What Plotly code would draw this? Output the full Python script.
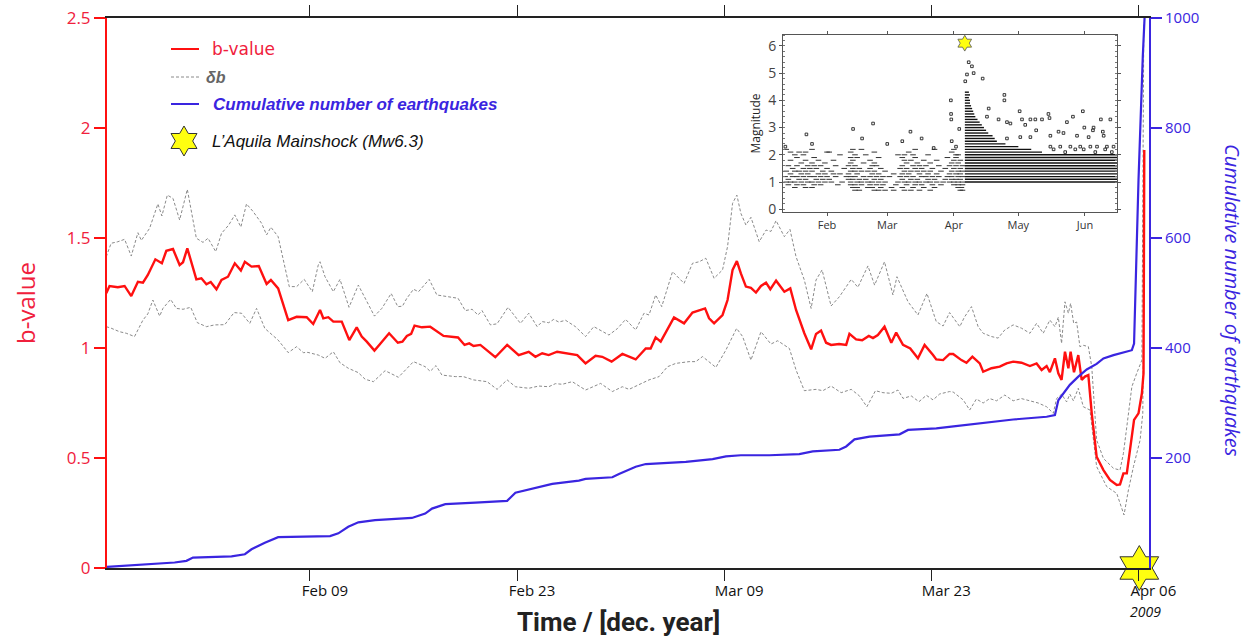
import math
import plotly.graph_objects as go
import pandas as pd

BASE = pd.Timestamp("2009-01-01")


def to_date(days):
    return [BASE + pd.Timedelta(days=float(d)) for d in days]


# ---------------- main chart data (day of year 2009, Jan 1 = 0) ----------------
b_day = [25.23, 25.45, 26.01, 26.47, 26.92, 27.37, 27.71, 28.04, 28.55, 28.99,
         29.29, 29.74, 30.19, 30.42, 30.71, 31.32, 31.66, 32.00, 32.29, 32.68,
         33.02, 33.46, 33.92, 34.33, 34.60, 35.05, 35.54, 36.07, 36.36, 36.85,
         37.53, 38.10, 38.78, 39.22, 39.68, 39.90, 40.24, 40.58, 41.15, 41.66,
         42.16, 42.50, 42.84, 43.36, 43.74, 44.35, 44.94, 45.25, 45.55, 45.84,
         46.07, 46.57, 47.13, 48.03, 49.01, 49.45, 49.77, 50.06, 50.52, 51.53,
         52.33, 53.11, 53.79, 54.24, 54.70, 55.14, 55.71, 56.28, 57.07, 57.63,
         58.31, 58.76, 59.39, 60.12, 61.02, 61.70, 62.03, 62.37, 62.71, 63.61,
         64.29, 64.86, 65.71, 65.98, 66.32, 66.89, 67.23, 67.57, 67.86, 68.13,
         68.47, 68.81, 69.15, 69.49, 69.83, 70.12, 70.51, 71.07, 71.47, 71.86,
         72.42, 72.88, 73.21, 73.55, 73.89, 74.23, 74.77, 75.25, 75.47, 75.92,
         76.33, 76.78, 77.06, 77.39, 77.84, 78.30, 78.63, 79.09, 79.58, 80.10,
         80.55, 81.12, 81.34, 81.80, 82.24, 82.48, 83.04, 83.38, 83.78, 84.28,
         84.51, 85.07, 85.63, 86.09, 86.54, 87.10, 87.67, 88.12, 88.46, 88.80,
         89.02, 89.36, 89.59, 89.81, 90.04, 90.27, 90.42, 90.65, 90.94, 91.17,
         91.39, 91.62, 91.85, 92.18, 92.64, 93.08, 93.54, 93.76, 93.99, 94.22,
         94.44, 94.71, 95.01, 95.24, 95.35, 95.40]
b_val = [1.249, 1.282, 1.276, 1.282, 1.236, 1.301, 1.297, 1.332, 1.403, 1.385,
         1.442, 1.45, 1.377, 1.39, 1.453, 1.312, 1.317, 1.29, 1.30, 1.267,
         1.309, 1.324, 1.385, 1.352, 1.392, 1.37, 1.373, 1.291, 1.309, 1.271,
         1.127, 1.142, 1.14, 1.109, 1.173, 1.135, 1.14, 1.12, 1.12, 1.036,
         1.094, 1.052, 1.029, 0.988, 1.018, 1.067, 1.024, 1.029, 1.055, 1.064,
         1.102, 1.094, 1.097, 1.055, 1.048, 1.014, 1.021, 1.009, 1.014, 0.958,
         1.014, 0.968, 0.983, 0.96, 0.976, 0.968, 0.983, 0.976, 0.968, 0.93,
         0.965, 0.96, 0.938, 0.973, 0.948, 0.998, 0.998, 1.048, 1.029, 1.139,
         1.112, 1.161, 1.18, 1.135, 1.112, 1.15, 1.218, 1.355, 1.395, 1.339,
         1.279, 1.273, 1.252, 1.282, 1.297, 1.267, 1.306, 1.256, 1.271, 1.173,
         1.067, 0.994, 1.064, 1.079, 1.024, 1.014, 1.018, 1.014, 1.064, 1.039,
         1.035, 1.055, 1.045, 1.059, 1.097, 1.024, 1.07, 1.014, 0.998, 0.953,
         1.014, 0.968, 0.948, 0.945, 0.973, 0.973, 0.945, 0.933, 0.961, 0.93,
         0.892, 0.908, 0.915, 0.93, 0.938, 0.933, 0.918, 0.93, 0.90, 0.918,
         0.89, 0.953, 0.885, 0.855, 0.983, 0.908, 0.983, 0.89, 0.968, 0.855,
         0.87, 0.877, 0.703, 0.506, 0.445, 0.40, 0.377, 0.38, 0.43, 0.43,
         0.536, 0.673, 0.703, 0.794, 0.885, 1.9]

up_day = [25.23, 25.56, 26.01, 26.47, 26.92, 27.37, 27.60, 28.16, 28.72, 28.99,
          29.36, 29.74, 30.19, 30.71, 31.32, 31.77, 32.11, 32.63, 33.02, 33.51,
          33.92, 34.33, 34.71, 35.16, 35.73, 36.07, 36.36, 36.85, 37.60, 38.10,
          38.61, 39.16, 39.56, 39.68, 40.02, 40.58, 41.03, 41.64, 42.27, 42.84,
          43.36, 43.86, 44.49, 44.94, 45.25, 45.55, 46.00, 46.34, 47.06, 47.58,
          49.01, 49.50, 49.96, 50.36, 50.63, 51.20, 51.65, 52.39, 53.23, 53.79,
          54.36, 54.70, 55.14, 55.48, 55.82, 56.28, 56.95, 57.63, 58.19, 59.21,
          59.78, 60.34, 61.02, 61.58, 61.92, 62.37, 62.78, 63.51, 64.29, 64.86,
          65.31, 65.76, 66.32, 66.89, 67.23, 67.57, 67.86, 68.13, 68.47, 68.81,
          69.37, 69.83, 70.16, 70.51, 71.07, 71.45, 71.86, 72.42, 72.88, 73.21,
          73.62, 74.23, 74.79, 75.59, 76.04, 76.72, 77.17, 77.84, 78.41, 78.68,
          79.43, 80.10, 80.71, 81.34, 81.80, 82.24, 82.48, 82.93, 83.24, 83.72,
          84.17, 84.51, 85.07, 85.52, 85.97, 86.54, 87.10, 87.67, 88.12, 88.57,
          89.02, 89.36, 89.59, 89.81, 90.04, 90.27, 90.42, 90.63, 90.83, 91.05,
          91.30, 91.62, 91.85, 92.18, 92.64, 93.32, 93.76, 93.99, 94.22, 94.56,
          94.89, 95.24, 95.37]
up_val = [1.415, 1.476, 1.483, 1.494, 1.418, 1.524, 1.489, 1.544, 1.655, 1.60,
          1.695, 1.68, 1.582, 1.721, 1.499, 1.48, 1.499, 1.438, 1.521, 1.559,
          1.605, 1.55, 1.655, 1.62, 1.567, 1.514, 1.549, 1.506, 1.279, 1.279,
          1.312, 1.256, 1.377, 1.392, 1.324, 1.256, 1.312, 1.185, 1.286, 1.21,
          1.145, 1.18, 1.248, 1.188, 1.19, 1.226, 1.267, 1.256, 1.312, 1.241,
          1.226, 1.17, 1.176, 1.15, 1.17, 1.105, 1.11, 1.185, 1.112, 1.158,
          1.097, 1.12, 1.115, 1.13, 1.118, 1.126, 1.097, 1.052, 1.097, 1.059,
          1.088, 1.13, 1.082, 1.158, 1.15, 1.241, 1.188, 1.347, 1.294, 1.385,
          1.392, 1.408, 1.317, 1.355, 1.461, 1.658, 1.695, 1.612, 1.559, 1.594,
          1.483, 1.536, 1.53, 1.579, 1.506, 1.539, 1.415, 1.309, 1.18, 1.309,
          1.355, 1.191, 1.233, 1.312, 1.276, 1.373, 1.286, 1.392, 1.241, 1.324,
          1.21, 1.15, 1.248, 1.12, 1.10, 1.161, 1.14, 1.097, 1.14, 1.188,
          1.097, 1.067, 1.052, 1.045, 1.082, 1.105, 1.09, 1.067, 1.112, 1.067,
          1.127, 1.097, 1.14, 1.021, 1.21, 1.158, 1.203, 1.112, 1.118, 1.006,
          1.012, 1.006, 0.915, 0.582, 0.498, 0.453, 0.445, 0.521, 0.642, 0.824,
          0.885, 0.945, 2.48]

lo_day = [25.23, 25.56, 26.13, 26.58, 27.14, 27.71, 28.04, 28.38, 28.84, 29.06,
          29.58, 29.97, 30.42, 30.94, 31.39, 32.00, 32.56, 33.24, 33.87, 34.37,
          34.93, 35.39, 35.95, 36.85, 37.53, 38.10, 38.55, 38.86, 39.56, 40.02,
          40.58, 41.03, 41.59, 42.27, 42.73, 43.29, 44.08, 44.98, 46.00, 46.79,
          47.13, 47.52, 47.92, 48.82, 49.37, 50.06, 50.97, 51.65, 52.33, 52.89,
          53.79, 54.47, 55.14, 55.60, 56.05, 56.73, 57.63, 58.65, 59.44, 60.12,
          60.57, 61.24, 61.92, 62.60, 63.17, 63.73, 64.63, 65.08, 65.54, 66.44,
          67.12, 67.84, 68.25, 68.81, 69.49, 70.16, 70.62, 71.41, 71.86, 72.42,
          73.21, 73.67, 74.23, 74.91, 75.59, 76.15, 76.65, 77.23, 77.73, 78.30,
          78.75, 79.09, 79.65, 80.17, 80.67, 81.12, 81.57, 82.24, 82.48, 83.16,
          83.60, 84.05, 84.51, 84.95, 85.41, 85.97, 86.54, 87.10, 87.67, 88.23,
          88.80, 89.25, 89.47, 89.81, 90.15, 90.37, 90.61, 90.94, 91.28, 91.73,
          92.18, 92.86, 93.54, 94.03, 94.33, 94.67, 95.12, 95.30, 95.37]
lo_val = [1.097, 1.09, 1.074, 1.067, 1.052, 1.127, 1.155, 1.218, 1.145, 1.18,
          1.221, 1.18, 1.176, 1.185, 1.115, 1.097, 1.105, 1.106, 1.161, 1.158,
          1.112, 1.18, 1.089, 1.036, 0.979, 1.006, 0.979, 0.98, 0.968, 0.953,
          0.983, 0.933, 0.908, 0.888, 0.858, 0.847, 0.897, 0.867, 0.938, 0.915,
          0.894, 0.92, 0.877, 0.87, 0.87, 0.855, 0.847, 0.812, 0.855, 0.824,
          0.817, 0.827, 0.824, 0.838, 0.835, 0.847, 0.809, 0.839, 0.802, 0.824,
          0.812, 0.832, 0.855, 0.87, 0.915, 0.93, 0.938, 0.938, 0.961, 0.912,
          0.991, 1.089, 1.052, 0.945, 1.074, 1.018, 1.033, 0.998, 0.90, 0.806,
          0.812, 0.806, 0.827, 0.797, 0.812, 0.782, 0.733, 0.806, 0.797, 0.794,
          0.809, 0.771, 0.782, 0.756, 0.785, 0.764, 0.791, 0.802, 0.80, 0.764,
          0.718, 0.768, 0.75, 0.77, 0.76, 0.786, 0.76, 0.77, 0.76, 0.75,
          0.733, 0.703, 0.77, 0.79, 0.755, 0.79, 0.76, 0.817, 0.733, 0.718,
          0.461, 0.37, 0.339, 0.241, 0.355, 0.461, 0.582, 0.703, 1.3]

cum_day = [25.28, 27.82, 29.85, 30.65, 31.09, 33.70, 34.60, 35.05, 35.95, 36.85,
           38.66, 40.36, 40.92, 41.59, 42.27, 43.40, 45.89, 46.79, 47.25, 48.15,
           50.18, 52.33, 52.89, 53.91, 55.38, 57.18, 57.63, 59.44, 59.89, 61.02,
           61.70, 64.41, 66.22, 67.12, 68.13, 70.05, 72.08, 72.99, 74.79, 75.25,
           75.81, 76.83, 78.86, 79.43, 81.34, 82.36, 84.28, 86.54, 88.80, 89.36,
           89.59, 89.93, 90.37, 90.94, 91.51, 92.18, 92.64, 93.32, 94.22, 94.56,
           94.71, 95.01, 95.30, 95.42]
cum_val = [2, 7, 10, 13, 19, 21, 25, 34, 46, 56,
           57, 58, 63, 75, 83, 87, 91, 99, 108, 116,
           119, 122, 137, 143, 153, 159, 162, 165, 171, 184,
           189, 193, 198, 203, 205, 205, 207, 212, 215, 221,
           234, 239, 243, 251, 254, 257, 263, 270, 275, 278,
           305, 318, 333, 348, 361, 371, 381, 387, 393, 396,
           408, 705, 930, 1000]

mainshock_day = 95.064
mainshock_mag = 6.1

x_tick_days = [39, 53, 67, 81, 95]
x_tick_text = ["Feb 09", "Feb 23", "Mar 09", "Mar 23", "Apr 06"]
b_ticks = [0, 0.5, 1, 1.5, 2, 2.5]
b_tick_text = ["0", "0.5", "1", "1.5", "2", "2.5"]
cum_ticks = [200, 400, 600, 800, 1000]

# ---------------- inset data (magnitude catalog) ----------------
pre_row_mags = [0.7, 0.8, 0.9, 1.0, 1.1, 1.2, 1.3, 1.4, 1.5, 1.6, 1.7, 1.8, 1.9, 2.0, 2.1, 2.2]
pre_row_days = [
    [44, 46, 53, 55, 58, 62, 67, 70, 74, 79, 93, 94],
    [16, 21, 24, 43, 45, 50, 52, 56, 61, 66, 71, 76, 81, 92, 93.5],
    [13, 17, 20, 25, 28, 36, 42, 44, 47, 51, 54, 57, 63, 68, 72, 75, 80, 84, 90, 92, 94],
    [12, 14, 16, 19, 22, 24, 27, 30, 33, 38, 42, 45, 47, 50, 52, 55, 58, 64, 67, 69,
     72, 74, 77, 79, 82, 85, 88, 90, 92, 94],
    [13, 18, 21, 26, 29, 32, 41, 43, 46, 49, 53, 56, 66, 70, 73, 78, 81, 86, 89, 91, 93],
    [11.5, 15, 17, 20, 23, 25, 28, 31, 35, 40, 42, 44, 48, 51, 54, 57, 60, 65, 68, 71,
     75, 77, 80, 83, 87, 89, 92, 94],
    [14, 19, 22, 27, 30, 34, 37, 41, 45, 52, 55, 62, 66, 69, 74, 78, 82, 88, 91, 93],
    [12, 16, 18, 21, 24, 29, 33, 42, 44, 47, 50, 53, 58, 67, 70, 73, 76, 79, 84, 89, 92, 94],
    [15, 20, 23, 26, 31, 39, 43, 46, 51, 56, 65, 68, 72, 75, 80, 86, 90, 93],
    [13, 17, 22, 25, 28, 35, 41, 44, 52, 54, 66, 71, 74, 77, 83, 88, 91, 94],
    [19, 24, 30, 42, 48, 53, 68, 73, 79, 89, 92],
    [14, 21, 27, 34, 43, 51, 67, 70, 76, 82, 90, 93],
    [17, 25, 42, 45, 55, 66, 72, 87, 91],
    [16, 20, 37, 44, 49, 64, 67, 71, 78, 91, 92],
    [14, 18, 21, 31, 32, 42, 53, 69, 89],
    [12, 24, 43, 47, 72, 81, 90],
]
extra_day = [11.6, 21.4, 24.0, 43.1, 47.3, 52.4, 69.8, 59.0, 66.0, 80.6, 88.6, 88.7,
             88.8, 89.0, 92.5, 91.0, 75.0,
             103.4, 96.9, 98.4, 99.2, 96.1, 95.3, 113.5, 113.5, 106.2, 105.4, 110.8,
             114.7, 116.3, 120.6, 121.7, 123.2, 125.6, 127.9, 128.3, 131.0, 134.0,
             134.5, 138.7, 142.6, 145.4, 150.0, 150.7, 154.7, 155.0, 158.4, 159.3,
             162.8, 114.7, 120.9, 125.6, 134.9, 141.0, 147.3, 152.7, 159.7,
             134.9, 139.5, 144.2, 148.8, 153.5, 156.6, 161.2, 164.3,
             136.4, 141.8, 146.5, 150.4, 155.8, 160.4, 163.5]
extra_mag = [2.3, 2.75, 2.4, 2.95, 2.6, 3.15, 2.85, 2.4, 2.5, 2.25, 4.0, 3.5,
             3.3, 2.5, 2.95, 2.3, 2.6,
             4.8, 5.4, 5.25, 5.0, 4.95, 4.7, 4.2, 4.0, 3.7, 3.4, 3.3,
             3.2, 3.15, 3.6, 3.3, 3.1, 3.3, 3.3, 2.9, 3.3, 3.5,
             3.35, 2.85, 3.2, 3.4, 3.6, 3.0, 2.9, 3.0, 3.3, 2.85,
             3.3, 2.6, 2.65, 2.65, 2.7, 2.8, 2.7, 2.65, 2.7,
             2.3, 2.3, 2.3, 2.3, 2.3, 2.3, 2.3, 2.3,
             2.2, 2.1, 2.2, 2.2, 2.1, 2.2, 2.1]
band_mags = [1.0, 1.1, 1.2, 1.3, 1.4, 1.5, 1.6, 1.7, 1.8, 1.9, 2.0,
             2.1, 2.2, 2.3, 2.4, 2.5, 2.6, 2.7, 2.8, 2.9, 3.0,
             3.1, 3.2, 3.3, 3.4, 3.5, 3.6, 3.7, 3.8, 3.9, 4.0, 4.1, 4.2, 4.3]
band_end = [165.9, 165.9, 165.9, 165.9, 165.9, 165.9, 165.9, 165.9, 165.9, 165.9, 165.9,
            131, 126, 120, 114, 110, 109, 108, 106, 105, 104,
            103, 102, 101, 100, 99.5, 99, 98.5, 98, 97.5, 97.5, 97, 97.5, 97]
inset_tick_days = [31, 59, 90, 120, 151]
inset_tick_text = ["Feb", "Mar", "Apr", "May", "Jun"]

assert len(b_day) == len(b_val)
assert len(up_day) == len(up_val)
assert len(lo_day) == len(lo_val)
assert len(cum_day) == len(cum_val)
assert len(extra_day) == len(extra_mag)
assert len(band_mags) == len(band_end)
assert len(pre_row_mags) == len(pre_row_days)

# ---------------- styles ----------------
RED = "#ff1010"
RED_TXT = "#f0203c"
BLUE = "#3a25e0"
GRAY = "#8a8a8a"
FONT = "Open Sans"

W, H = 1254, 642
L, R, T, B = 107, 1149, 18, 568


def px(x):
    return (x - L) / (R - L)


def py(y):
    return (B - y) / (B - T)


fig = go.Figure()

for d, v in ((up_day, up_val), (lo_day, lo_val)):
    fig.add_trace(go.Scatter(x=to_date(d), y=v, mode="lines",
                             line=dict(color=GRAY, width=1, dash="3px,2px"),
                             xaxis="x", yaxis="y", hoverinfo="skip"))
fig.add_trace(go.Scatter(x=to_date(b_day), y=b_val, mode="lines",
                         line=dict(color=RED, width=2.4), xaxis="x", yaxis="y"))
fig.add_trace(go.Scatter(x=to_date(cum_day), y=cum_val, mode="lines",
                         line=dict(color=BLUE, width=2.2), xaxis="x", yaxis="y3"))
fig.add_trace(go.Scatter(x=to_date([mainshock_day]), y=[0], mode="markers",
                         marker=dict(symbol="hexagram", size=34, color="#ffff10",
                                     line=dict(color="#333", width=1)),
                         cliponaxis=False, xaxis="x", yaxis="y"))

# inset traces
bx, by = [], []
for m, e in zip(band_mags, band_end):
    bx += [BASE + pd.Timedelta(days=mainshock_day + 0.05), BASE + pd.Timedelta(days=e), None]
    by += [m, m, None]
fig.add_trace(go.Scatter(x=bx, y=by, mode="lines", line=dict(color="#111", width=1.4),
                         xaxis="x2", yaxis="y2", connectgaps=False))
pd_days, pd_mags = [], []
for m, days in zip(pre_row_mags, pre_row_days):
    pd_days += days
    pd_mags += [m] * len(days)
fig.add_trace(go.Scatter(x=to_date(pd_days), y=pd_mags, mode="markers",
                         marker=dict(symbol="line-ew", size=4, color="#333",
                                     line=dict(width=1, color="#333")),
                         xaxis="x2", yaxis="y2"))
fig.add_trace(go.Scatter(x=to_date(extra_day), y=extra_mag, mode="markers",
                         marker=dict(symbol="square-open", size=2.6, color="#222",
                                     line=dict(width=0.9)),
                         xaxis="x2", yaxis="y2"))
fig.add_trace(go.Scatter(x=to_date([mainshock_day]), y=[mainshock_mag], mode="markers",
                         marker=dict(symbol="hexagram", size=12, color="#ffff10",
                                     line=dict(color="#555", width=0.8)),
                         cliponaxis=False, xaxis="x2", yaxis="y2"))

fig.update_layout(
    width=W, height=H, showlegend=False,
    margin=dict(l=L, r=W - R, t=T, b=H - B, autoexpand=False),
    paper_bgcolor="white", plot_bgcolor="white",
    font=dict(family=FONT),
    xaxis=dict(domain=[0, 1], range=to_date([25.28, 95.72]), automargin=False,
               tickvals=to_date(x_tick_days), ticktext=x_tick_text,
               ticks="outside", ticklen=11, tickcolor="#222", tickwidth=1.3,
               showline=True, linecolor="#222", linewidth=1.5, mirror="ticks",
               showgrid=False, zeroline=False, ticklabelshift=15,
               ticklabelstandoff=-3,
               tickfont=dict(size=15, color="#111", family=FONT)),
    yaxis=dict(domain=[0, 1], range=[0, 2.5], tickvals=b_ticks, ticktext=b_tick_text,
               automargin=False,
               ticks="outside", ticklen=11, tickcolor=RED, tickwidth=1.5,
               showline=True, linecolor=RED, linewidth=2, showgrid=False,
               zeroline=False, tickfont=dict(size=17, color=RED_TXT, family=FONT)),
    yaxis3=dict(overlaying="y", side="right", range=[0, 1000], tickvals=cum_ticks,
                automargin=False,
                ticks="outside", ticklen=11, tickcolor=BLUE, tickwidth=1.5,
                showline=True, linecolor=BLUE, linewidth=2, showgrid=False,
                zeroline=False, tickfont=dict(size=15, color=BLUE, family=FONT)),
    xaxis2=dict(domain=[px(783), px(1117)], anchor="y2", automargin=False,
                range=to_date([10.5, 165.9]), tickvals=to_date(inset_tick_days),
                ticktext=inset_tick_text, ticks="outside", ticklen=3,
                tickcolor="#555", showline=True, linecolor="#555", linewidth=1,
                mirror="ticks", showgrid=False, zeroline=False,
                tickfont=dict(size=11, color="#333", family=FONT)),
    yaxis2=dict(domain=[py(212), py(35)], anchor="x2", range=[-0.1, 6.4],
                automargin=False,
                tickvals=[0, 1, 2, 3, 4, 5, 6], ticks="outside", ticklen=3,
                tickcolor="#555", showline=True, linecolor="#555", linewidth=1,
                mirror="ticks", showgrid=False, zeroline=False,
                minor=dict(dtick=0.2, ticks="inside", ticklen=2, tickcolor="#777"),
                title=dict(text="Magnitude", standoff=4,
                           font=dict(size=12, color="#222", family=FONT)),
                tickfont=dict(size=14, color="#444", family=FONT)),
)

ann = [
    dict(x=px(25), y=py(303), text="b-value", textangle=-90, showarrow=False,
         font=dict(size=24, color=RED_TXT, family=FONT)),
    dict(x=px(1233), y=py(300), text="<i>Cumulative number of earthquakes</i>",
         textangle=90, showarrow=False, font=dict(size=20, color=BLUE, family=FONT)),
    dict(x=px(618), y=py(622), text="<b>Time / [dec. year]</b>", showarrow=False,
         font=dict(size=26, color="#222", family="Roboto")),
    dict(x=px(1145), y=py(611), text="<i>2009</i>", showarrow=False,
         font=dict(size=14, color="#111", family=FONT)),
    dict(x=px(210), y=py(49), text="b-value", showarrow=False, xanchor="left",
         font=dict(size=17, color=RED_TXT, family="DejaVu Sans")),
    dict(x=px(204), y=py(77), text="<b><i>δb</i></b>", showarrow=False, xanchor="left",
         font=dict(size=16, color="#666", family="Liberation Sans")),
    dict(x=px(211), y=py(104), text="<b><i>Cumulative number of earthquakes</i></b>",
         showarrow=False, xanchor="left",
         font=dict(size=17, color=BLUE, family="Liberation Sans")),
    dict(x=px(210), y=py(141), text="<i>L’Aquila Mainshock (Mw6.3)</i>",
         showarrow=False, xanchor="left",
         font=dict(size=17, color="#111", family="Liberation Sans")),
]
for a in ann:
    a.update(xref="paper", yref="paper", xanchor=a.get("xanchor", "center"),
             yanchor="middle")
fig.update_layout(annotations=ann)

# legend samples (paper coordinates)
shapes = [
    dict(type="line", x0=px(171), x1=px(199), y0=py(49), y1=py(49),
         line=dict(color=RED, width=2)),
    dict(type="line", x0=px(171), x1=px(199), y0=py(77), y1=py(77),
         line=dict(color=GRAY, width=1, dash="3px,2px")),
    dict(type="line", x0=px(171), x1=px(199), y0=py(104), y1=py(104),
         line=dict(color=BLUE, width=2)),
]
cx, cy, Ro = 184, 141, 15
Ri = Ro / math.sqrt(3)
pts = []
for k in range(12):
    ang = math.radians(90 + 30 * k)
    r = Ro if k % 2 == 0 else Ri
    pts.append((px(cx + r * math.cos(ang)), py(cy - r * math.sin(ang))))
path = "M " + " L ".join(f"{a:.5f},{b:.5f}" for a, b in pts) + " Z"
shapes.append(dict(type="path", path=path, fillcolor="#ffff10",
                   line=dict(color="#333", width=1)))
for s in shapes:
    s.setdefault("xref", "paper")
    s.setdefault("yref", "paper")
fig.update_layout(shapes=shapes)

fig.write_html("out.html")
